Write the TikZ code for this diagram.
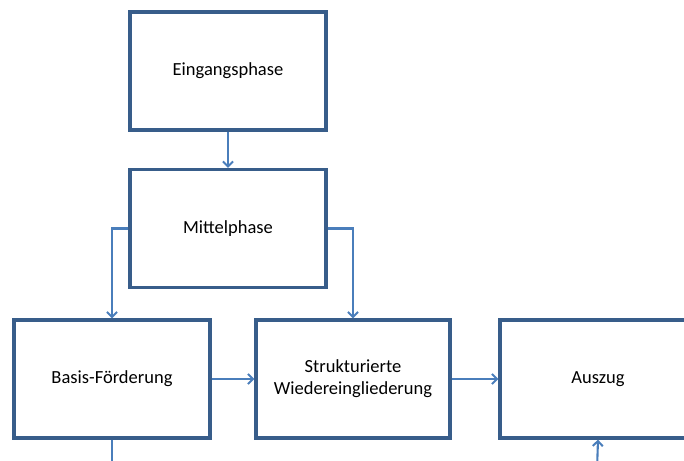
\documentclass[tikz,border=0pt]{standalone}
\usepackage{fontspec}
\setmainfont{Carlito}
\usepackage{tikz}
\usetikzlibrary{positioning,arrows.meta,calc}
\usepackage{xcolor}
\definecolor{pborder}{RGB}{56,93,138}
\definecolor{pline}{RGB}{74,126,187}
\tikzset{phase/.style={draw=pborder,line width=3.3pt,fill=white,align=center,minimum width=#1,minimum height=118pt,inner sep=3pt,font=\fontsize{18.5}{22}\selectfont}}
\tikzset{pfeil/.style={draw=pline,line width=2.1pt,-{Straight Barb[length=5pt,width=10pt,line width=2pt]}}}

\begin{document}
\begin{tikzpicture}[x=1pt,y=-1pt]
    \useasboundingbox (0,0) rectangle (684,460);
    \clip (0,0) rectangle (684,460);
    \node[phase=196pt] (eingang) at (228,71) {Eingangsphase};
    \node[phase=196pt] (mittel) at (228,228.5) {Mittelphase};
    \node[phase=196pt] (basis) at (112,379) {Basis-F\"orderung};
    \node[phase=194pt] (struktur) at (353,379) {Strukturierte\\Wiedereingliederung};
    \node[phase=196pt] (auszug) at (598,379) {Auszug};
    \coordinate (basisaus) at (112,470);
    \coordinate (auszugein) at (597,470);
    \draw[pfeil] (eingang) -- (mittel);
    \draw[pfeil] (mittel.west) -| (basis.north);
    \draw[pfeil] (mittel.east) -| (struktur.north);
    \draw[pfeil] (basis) -- (struktur);
    \draw[pfeil] (struktur) -- (auszug);
    \draw[draw=pline,line width=2.1pt] (basis.south) -- (basisaus);
    \draw[pfeil] (auszugein) -- (auszug.south);
  \end{tikzpicture}
\end{document}
